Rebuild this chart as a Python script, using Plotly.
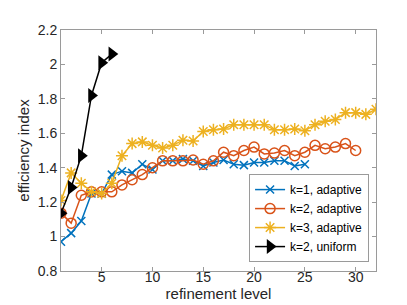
import plotly.graph_objects as go

levels_k1 = list(range(1, 26))
eff_k1 = [0.97, 1.02, 1.09, 1.25, 1.25, 1.36, 1.38, 1.37, 1.42, 1.39, 1.44, 1.44, 1.45, 1.44, 1.41,
          1.43, 1.445, 1.42, 1.415, 1.43, 1.43, 1.44, 1.44, 1.41, 1.42]

levels_k2 = list(range(1, 31))
eff_k2 = [1.136, 1.078, 1.24, 1.26, 1.26, 1.26, 1.30, 1.33, 1.36, 1.40, 1.44, 1.44, 1.44, 1.445, 1.42,
          1.44, 1.49, 1.47, 1.50, 1.52, 1.48, 1.485, 1.50, 1.47, 1.49, 1.53, 1.51, 1.52, 1.54, 1.50]

levels_k3 = list(range(1, 33))
eff_k3 = [1.21, 1.37, 1.31, 1.26, 1.25, 1.31, 1.47, 1.54, 1.55, 1.53, 1.515, 1.53, 1.56, 1.555, 1.61,
          1.62, 1.625, 1.65, 1.65, 1.65, 1.65, 1.62, 1.62, 1.625, 1.615, 1.65, 1.67, 1.68, 1.72, 1.72,
          1.71, 1.74]

levels_uni = list(range(1, 7))
eff_uni = [1.135, 1.285, 1.47, 1.82, 2.01, 2.06]

x_ticks = [5, 10, 15, 20, 25, 30]
y_ticks = [0.8, 1.0, 1.2, 1.4, 1.6, 1.8, 2.0, 2.2]
y_tick_text = ["0.8", "1", "1.2", "1.4", "1.6", "1.8", "2", "2.2"]

FONT = "Liberation Sans, Arial"

fig = go.Figure()
fig.add_trace(go.Scatter(x=levels_k1, y=eff_k1, name="k=1, adaptive", mode="lines+markers",
                         line=dict(color="#0072BD", width=1.5),
                         marker=dict(symbol="x-thin-open", size=8, line=dict(color="#0072BD", width=1.5))))
fig.add_trace(go.Scatter(x=levels_k2, y=eff_k2, name="k=2, adaptive", mode="lines+markers",
                         line=dict(color="#D95319", width=1.5),
                         marker=dict(symbol="circle-open", size=10, color="#D95319", line=dict(width=1.5))))
fig.add_trace(go.Scatter(x=levels_k3, y=eff_k3, name="k=3, adaptive", mode="lines+markers",
                         line=dict(color="#EDB120", width=1.5),
                         marker=dict(symbol="asterisk-open", size=10, line=dict(color="#EDB120", width=1.5))))
fig.add_trace(go.Scatter(x=levels_uni, y=eff_uni, name="k=2, uniform", mode="lines+markers",
                         line=dict(color="black", width=1.5),
                         marker=dict(symbol="triangle-right", size=13, color="black")))

axis_common = dict(showgrid=False, zeroline=False, showline=True, linecolor="#9a9a9a", linewidth=1,
                   mirror="ticks", ticks="inside", ticklen=4, tickcolor="#9a9a9a",
                   tickfont=dict(family=FONT, size=14, color="#262626"))

fig.update_xaxes(range=[1, 32], tickvals=x_ticks, ticklabelstandoff=-7,
                 title=dict(text="refinement level", standoff=0,
                            font=dict(family=FONT, size=15, color="#262626")), **axis_common)
fig.update_yaxes(range=[0.8, 2.2], tickvals=y_ticks, ticktext=y_tick_text,
                 title=dict(text="efficiency index", standoff=4,
                            font=dict(family=FONT, size=15, color="#262626")),
                 **axis_common)

fig.update_layout(
    width=407, height=305,
    margin=dict(l=53, r=39, t=22, b=42),
    paper_bgcolor="white", plot_bgcolor="white",
    showlegend=True,
    legend=dict(x=0.978, y=0.037, xanchor="right", yanchor="bottom",
                bgcolor="white", bordercolor="#9a9a9a", borderwidth=1,
                font=dict(family=FONT, size=12, color="black"),
                tracegroupgap=0, itemwidth=30),
)

fig.write_html("out.html")
